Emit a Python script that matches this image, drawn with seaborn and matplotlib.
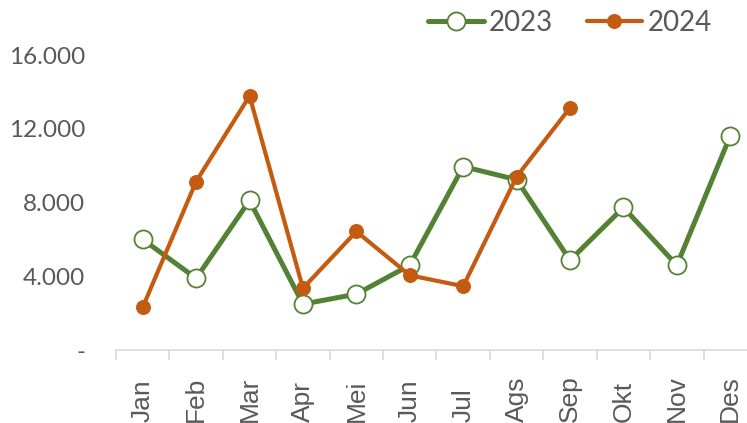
import pandas as pd
import numpy as np
import matplotlib
matplotlib.use("Agg")
import matplotlib.pyplot as plt
import seaborn as sns

# data
bulan = ["Jan", "Feb", "Mar", "Apr", "Mei", "Jun", "Jul", "Ags", "Sep", "Okt", "Nov", "Des"]
nilai_2023 = [6000, 3890, 8110, 2490, 3030, 4600, 9950, 9240, 4870, 7730, 4600, 11620]
nilai_2024 = [2320, 9140, 13780, 3350, 6430, 4050, 3460, 9400, 13140]
yticks = [0, 4000, 8000, 12000, 16000]
ytick_labels = ["-", "4.000", "8.000", "12.000", "16.000"]

hijau = "#548235"
oranye = "#C55A11"
abu = "#595959"

sns.set_theme(style="white")
plt.rcParams["font.family"] = ["Lato", "DejaVu Sans"]

df23 = pd.DataFrame({"x": np.arange(len(nilai_2023)), "y": nilai_2023})
df24 = pd.DataFrame({"x": np.arange(len(nilai_2024)), "y": nilai_2024})

fig = plt.figure(figsize=(7.47, 4.23), dpi=100)
ax = fig.add_axes([116 / 747, 1 - 350 / 423, 641 / 747, 313.4 / 423])

sns.lineplot(data=df23, x="x", y="y", ax=ax, color=hijau, linewidth=3.6,
             marker="o", markersize=13, markerfacecolor="white",
             markeredgecolor=hijau, markeredgewidth=1.3, label="2023")
sns.lineplot(data=df24, x="x", y="y", ax=ax, color=oranye, linewidth=3.0,
             marker="o", markersize=10, markerfacecolor=oranye,
             markeredgecolor=oranye, label="2024")

ax.set_xlim(-0.5, 11.5)
ax.set_ylim(0, 17000)
ax.set_xlabel("")
ax.set_ylabel("")

# y axis: labels only
ax.set_yticks(yticks)
ax.set_yticklabels(ytick_labels, fontsize=17.5, color=abu)
ax.tick_params(axis="y", length=0, pad=22)

# x axis: labels at centres, tick marks between categories
ax.set_xticks(np.arange(len(bulan)))
ax.set_xticklabels(bulan, rotation=90, fontsize=19, color=abu,
                   family=["Liberation Sans", "DejaVu Sans"])
ax.set_xticks(np.arange(-0.5, 12, 1), minor=True)
ax.tick_params(axis="x", which="major", length=0, pad=52)
ax.tick_params(axis="x", which="minor", length=7, width=1.2, color="#D9D9D9",
               bottom=True, direction="out")
for lbl in ax.get_xticklabels():
    lbl.set_va("bottom")

for s in ["top", "right", "left"]:
    ax.spines[s].set_visible(False)
ax.spines["bottom"].set_color("#D9D9D9")
ax.spines["bottom"].set_linewidth(1.2)

leg = ax.legend(loc="center", bbox_to_anchor=(570 / 747, 1 - 23 / 423),
                bbox_transform=fig.transFigure, ncol=2, frameon=False,
                fontsize=20, handlelength=2.0, handletextpad=0.2,
                columnspacing=1.2)
for t in leg.get_texts():
    t.set_color(abu)

fig.savefig("out.png", dpi=100)
